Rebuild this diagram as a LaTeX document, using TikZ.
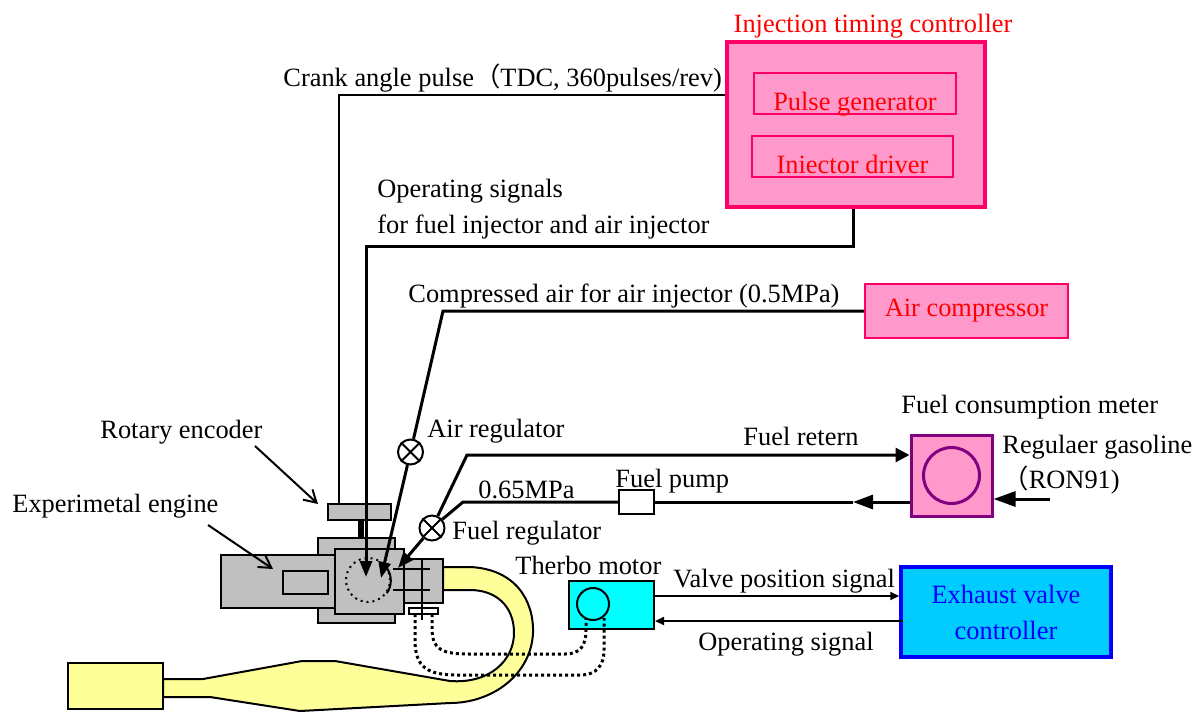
\documentclass[tikz,border=0pt]{standalone}
\usepackage{fontspec}
\setmainfont{Liberation Serif}
\newfontfamily\cjk{Noto Sans CJK SC}
\usetikzlibrary{arrows.meta}

\definecolor{boxpink}{HTML}{FF99CC}
\definecolor{edgepink}{HTML}{FF0066}
\definecolor{meterpurple}{HTML}{800080}
\definecolor{motorcyan}{HTML}{00FFFF}
\definecolor{ctrlblue}{HTML}{00CCFF}
\definecolor{partgray}{HTML}{C0C0C0}
\definecolor{pipeyellow}{HTML}{FFFF99}

\begin{document}
\begin{tikzpicture}[x=0.5pt, y=-0.5pt,
    every node/.style={font=\fontsize{13.2}{16}\selectfont, inner sep=0pt},
    lbl/.style={anchor=base west},
    redbox/.style={draw=edgepink, fill=boxpink, line width=1pt, text=red},
    part/.style={draw, fill=partgray, line width=1pt},
    valve/.style={circle, draw, fill=white, line width=1pt, minimum size=12.5pt},
    pipe/.style={line width=1.5pt},
    wire/.style={line width=1pt},
    sensor/.style={line width=1.5pt, dash pattern=on 1.5pt off 1.5pt},
    bigtip/.style={-{Triangle[length=8pt,width=6pt]}},
    fueltip/.style={-{Triangle[length=7pt,width=7pt]}},
    sigtip/.style={-{Triangle[length=4.5pt,width=4pt]}},
    callout/.style={line width=1pt, -{Straight Barb[length=6pt,width=7pt]}}]
    \useasboundingbox (0,0) rectangle (1203,713);

    % controllers and boxes
    \node[redbox, line width=1.75pt, minimum width=129pt, minimum height=82.5pt] (itc) at (856,124.5) {};
    \node[anchor=base, text=red] (itclbl) at (873,32) {Injection timing controller};
    \node[redbox, minimum width=101pt, minimum height=20.5pt] (pg) at (855,93.5) {};
    \node[anchor=base, text=red, yshift=2.5pt] (pglbl) at (pg.south) {Pulse generator};
    \node[redbox, minimum width=100.5pt, minimum height=20.5pt] (drv) at (852.5,156.5) {};
    \node[anchor=base, text=red, yshift=2.5pt] (drvlbl) at (drv.south) {Iniector driver};
    \node[redbox, minimum width=101.5pt, minimum height=27pt] (comp) at (966.5,311) {Air compressor};

    \node[draw=meterpurple, fill=boxpink, line width=1.5pt, minimum size=40.5pt] (meter) at (951.5,475.5) {};
    \node[circle, draw=meterpurple, line width=1.5pt, minimum size=28pt] (dial) at (meter) {};
    \node[draw, fill=white, line width=1pt, minimum width=17.5pt, minimum height=12pt] (pump) at (636.5,502) {};

    \node[draw, fill=motorcyan, line width=1pt, minimum width=42.5pt, minimum height=24pt] (motor) at (611.5,605) {};
    \node[circle, draw, line width=1pt, minimum size=16pt] (motordial) at (593,604) {};
    \node[draw=blue, fill=ctrlblue, line width=1.75pt, minimum width=105pt, minimum height=45pt,
        text=blue, align=center, font=\fontsize{13.2}{18}\selectfont] (evc) at (1006,612) {Exhaust valve\\controller};

    \node[valve] (airreg) at (410.5,452) {};
    \node[valve] (fuelreg) at (432,528) {};
    \foreach \v in {airreg,fuelreg}
        \draw[line width=1pt] (\v.north east) -- (\v.south west) (\v.north west) -- (\v.south east);

    % exhaust pipe and muffler
    \draw[fill=pipeyellow, line width=1pt] (443,567) -- (470,567)
        .. controls (515,569) and (534,600) .. (533,633)
        .. controls (531,675) and (492,703) .. (450,703)
        -- (300,711) -- (210,697) -- (163,697) -- (163,679) -- (203,679)
        -- (302,661) -- (335,661) -- (450,681)
        .. controls (490,684) and (514,660) .. (514,633)
        .. controls (514,606) and (496,590) .. (470,590) -- (443,590) -- cycle;
    \draw[fill=pipeyellow, line width=1pt] (68,663) rectangle (163,709);

    % engine
    \draw[part] (318,538) rectangle (395,623);
    \draw[part] (221,555) rectangle (336,608);
    \draw[fill=partgray, line width=1pt] (283,571) rectangle (328,594);
    \draw[part] (335,549) rectangle (404,614);
    \draw[part] (404,559) rectangle (443,603);
    \node[circle, draw, line width=1pt, dash pattern=on 1pt off 2pt, minimum size=22pt] (cyl) at (368,580) {};
    \draw[line width=1pt] (cyl.-35) arc[start angle=-35, end angle=35, radius=11pt];
    \draw[line width=1pt] (393,569) -- (430,569) (393,590) -- (430,590);
    \node[draw, fill=white, line width=1pt, minimum width=14.5pt, minimum height=3pt] (flange) at (423.5,611) {};
    \draw[line width=1pt] (422,560) -- (422,620);
    \node[part, minimum width=31.5pt, minimum height=8pt] (enc) at (359.5,512) {};
    \node[fill=black, minimum width=3pt, minimum height=9pt] (shaft) at (361,529) {};

    % crank angle pulse
    \coordinate (crankbend) at (339,95);
    \draw[wire] (itc.west |- crankbend) -- (crankbend) -- (enc.north -| crankbend);
    \node[lbl] (cranklbl) at (283,86) {Crank angle pulse{\cjk （}TDC, 360pulses/rev)};

    % injector signals, air and fuel into the cylinder
    \coordinate (opbend1) at (853,246);
    \coordinate (opbend2) at (366,246);
    \coordinate (tipop) at (366,577);
    \draw[pipe, bigtip] (opbend1 |- itc.south) -- (opbend1) -- (opbend2) -- (tipop);
    \node[lbl] (oplbl1) at (377,197) {Operating signals};
    \node[lbl] (oplbl2) at (377,233) {for fuel injector and air injector};

    \coordinate (airbend) at (443,311);
    \coordinate (tipair) at (381,578);
    \draw[pipe] (comp.west) -- (airbend) -- (airreg);
    \draw[pipe, bigtip] (airreg) -- (tipair);
    \node[lbl] (airlbl) at (408,302) {Compressed air for air injector (0.5MPa)};
    \node[lbl] (airreglbl) at (427,437) {Air regulator};

    \coordinate (tipfuel) at (398,568);
    \draw[pipe, bigtip] (fuelreg) -- (tipfuel);
    \node[lbl] (fuelreglbl) at (452,539) {Fuel regulator};

    % fuel loop through the consumption meter
    \coordinate (retbend) at (467,455);
    \draw[pipe, fueltip] (fuelreg) -- (retbend) -- (meter.west |- retbend);
    \node[lbl] (retlbl) at (743,445) {Fuel retern};
    \coordinate (supbend) at (463,502);
    \coordinate (suptip) at (853,502);
    \draw[pipe] (fuelreg) -- (supbend) -- (pump.west);
    \draw[pipe] (suptip) -- (pump.east);
    \draw[pipe, -{Triangle[length=10pt,width=7pt]}] (meter.west |- suptip) -- (suptip);
    \node[lbl] (suplbl) at (478,498) {0.65MPa};
    \node[lbl] (pumplbl) at (615,487) {Fuel pump};

    \coordinate (gasin) at (1050,499);
    \draw[pipe, -{Triangle[length=11pt,width=7.5pt]}] (gasin) -- (gasin -| meter.east);
    \node[lbl] (meterlbl) at (901,413) {Fuel consumption meter};
    \node[lbl] (gaslbl1) at (1002,453) {Regulaer gasoline};
    \node[lbl] (gaslbl2) at (1002,488) {{\cjk （}RON91)};

    % turbo motor wiring and signals
    \draw[sensor] (432,614) -- (432,628) .. controls (432,650) and (442,654) .. (470,654)
        -- (565,654) .. controls (580,654) and (586,646) .. (586,630) -- (586,618);
    \draw[sensor] (415,614) -- (415,640) .. controls (415,668) and (428,675) .. (458,675)
        -- (580,675) .. controls (597,675) and (604,665) .. (604,650) -- (604,618);
    \node[lbl] (motorlbl) at (515,574) {Therbo motor};

    \coordinate (vpsstart) at (654,596);
    \coordinate (opsstart) at (903,621);
    \draw[wire, sigtip] (vpsstart) -- (vpsstart -| evc.west);
    \draw[wire, sigtip] (opsstart) -- (opsstart -| motor.east);
    \node[lbl] (vpslbl) at (673,587) {Valve position signal};
    \node[lbl] (opslbl) at (698,650) {Operating signal};

    % callouts
    \node[lbl] (enclbl) at (100,438) {Rotary encoder};
    \coordinate (enctail) at (255,446);
    \coordinate (enctip) at (318,504);
    \draw[callout] (enctail) -- (enctip);
    \node[lbl] (englbl) at (12,512) {Experimetal engine};
    \coordinate (engtail) at (208,525);
    \coordinate (engtip) at (273,569);
    \draw[callout] (engtail) -- (engtip);
\end{tikzpicture}
\end{document}
